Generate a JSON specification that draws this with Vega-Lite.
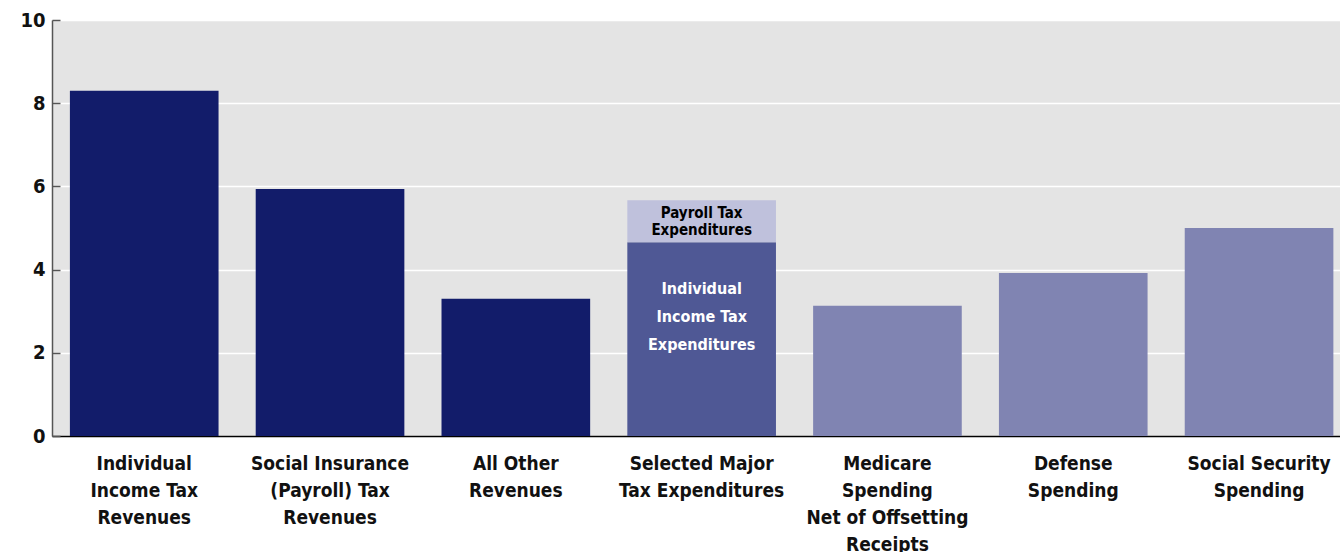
{
  "$schema": "https://vega.github.io/schema/vega-lite/v6.json",
  "width": 1288,
  "height": 416,
  "autosize": {"type": "none"},
  "padding": {"left": 52, "top": 20, "right": 0, "bottom": 116},
  "background": "white",
  "config": {
    "view": {"fill": "#e4e4e4", "stroke": null},
    "font": "Liberation Sans Narrow, DejaVu Sans Condensed, sans-serif"
  },
  "data": {
    "values": [
      {"category": "Individual|Income Tax|Revenues", "part": "Revenue", "value": 8.3, "label": ""},
      {"category": "Social Insurance|(Payroll) Tax|Revenues", "part": "Revenue", "value": 5.94, "label": ""},
      {"category": "All Other|Revenues", "part": "Revenue", "value": 3.3, "label": ""},
      {"category": "Selected Major|Tax Expenditures", "part": "Individual Income Tax Expenditures", "value": 4.66, "label": "Individual|Income Tax|Expenditures"},
      {"category": "Selected Major|Tax Expenditures", "part": "Payroll Tax Expenditures", "value": 1.01, "label": "Payroll Tax|Expenditures"},
      {"category": "Medicare|Spending|Net of Offsetting|Receipts", "part": "Spending", "value": 3.13, "label": ""},
      {"category": "Defense|Spending", "part": "Spending", "value": 3.92, "label": ""},
      {"category": "Social Security|Spending", "part": "Spending", "value": 5.0, "label": ""}
    ]
  },
  "transform": [
    {"stack": "value", "groupby": ["category"], "as": ["v0", "v1"], "sort": [{"field": "part", "order": "ascending"}]},
    {"calculate": "(datum.v0 + datum.v1) / 2", "as": "mid"}
  ],
  "encoding": {
    "x": {
      "field": "category",
      "type": "nominal",
      "sort": null,
      "scale": {"paddingInner": 0.2, "paddingOuter": 0.066, "align": 0.73},
      "axis": {
        "title": null,
        "labelAngle": 0,
        "labelExpr": "split(datum.label, '|')",
        "labelFontSize": 19,
        "labelFontWeight": "bold",
        "labelColor": "#111111",
        "labelLineHeight": 27,
        "labelPadding": 18,
        "ticks": false,
        "domainColor": "#000000",
        "domainWidth": 1.5,
        "grid": false
      }
    }
  },
  "layer": [
    {
      "mark": {"type": "bar"},
      "encoding": {
        "y": {
          "field": "v1",
          "type": "quantitative",
          "scale": {"domain": [0, 10], "nice": false},
          "axis": {
            "title": null,
            "values": [0, 2, 4, 6, 8, 10],
            "labelFontSize": 20,
            "labelFontWeight": "bold",
            "labelColor": "#111111",
            "labelPadding": 15,
            "tickSize": -8,
            "tickColor": "#555555",
            "tickWidth": 1.5,
            "domainColor": "#555555",
            "domainWidth": 1.5,
            "gridColor": "#ffffff",
            "gridWidth": 1.5
          }
        },
        "y2": {"field": "v0"},
        "color": {
          "field": "part",
          "type": "nominal",
          "scale": {
            "domain": ["Revenue", "Individual Income Tax Expenditures", "Payroll Tax Expenditures", "Spending"],
            "range": ["#121c6a", "#4f5895", "#bfc1dc", "#8084b2"]
          },
          "legend": null
        }
      }
    },
    {
      "transform": [{"filter": "datum.part === 'Payroll Tax Expenditures'"}],
      "mark": {"type": "text", "fontSize": 15, "fontWeight": "bold", "color": "#000000", "lineBreak": "|", "lineHeight": 17, "baseline": "middle", "dy": -8},
      "encoding": {
        "y": {"field": "mid", "type": "quantitative"},
        "text": {"field": "label"}
      }
    },
    {
      "transform": [{"filter": "datum.part === 'Individual Income Tax Expenditures'"}],
      "mark": {"type": "text", "fontSize": 16, "fontWeight": "bold", "color": "#ffffff", "lineBreak": "|", "lineHeight": 28, "baseline": "middle", "dy": -50},
      "encoding": {
        "y": {"field": "mid", "type": "quantitative"},
        "text": {"field": "label"}
      }
    }
  ]
}
